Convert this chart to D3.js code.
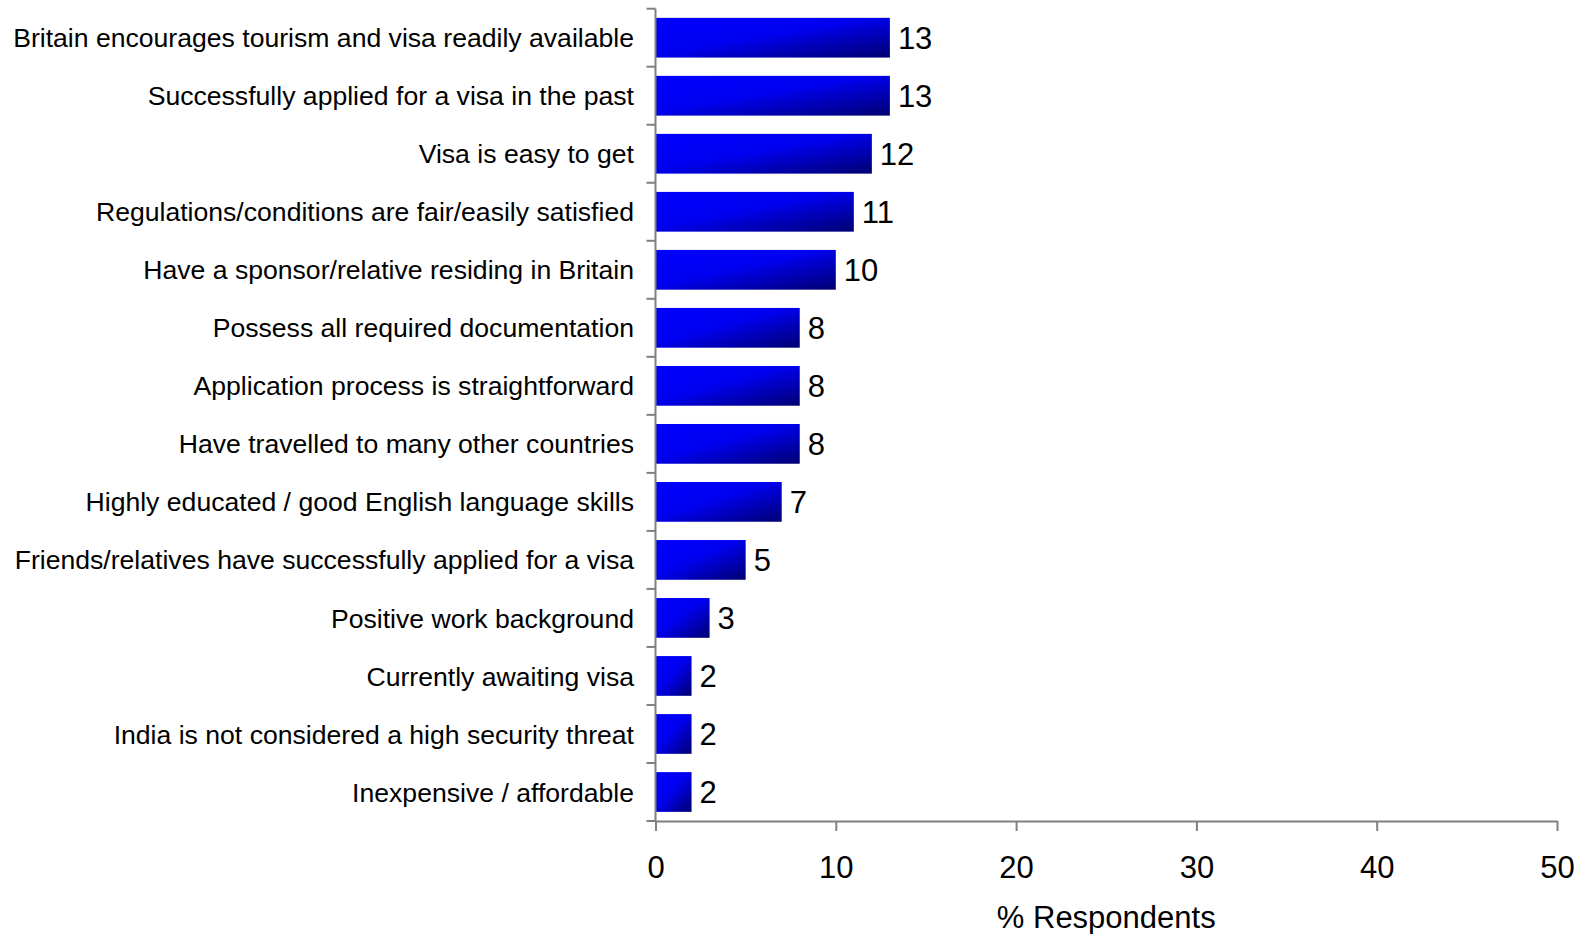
<!DOCTYPE html>
<html><head><meta charset="utf-8">
<script src="https://cdn.jsdelivr.net/npm/d3@7"></script>
<style>
html,body{margin:0;padding:0;background:#fff;}
svg{display:block;font-family:"Liberation Sans",Arial,sans-serif;}
</style></head>
<body>
<svg id="chart" width="1583" height="934"></svg>
<script>
const categories = [
  "Britain encourages tourism and visa readily available",
  "Successfully applied for a visa in the past",
  "Visa is easy to get",
  "Regulations/conditions are fair/easily satisfied",
  "Have a sponsor/relative residing in Britain",
  "Possess all required documentation",
  "Application process is straightforward",
  "Have travelled to many other countries",
  "Highly educated / good English language skills",
  "Friends/relatives have successfully applied for a visa",
  "Positive work background",
  "Currently awaiting visa",
  "India is not considered a high security threat",
  "Inexpensive / affordable"
];
const values = [13, 13, 12, 11, 10, 8, 8, 8, 7, 5, 3, 2, 2, 2];
const xTicks = [0, 10, 20, 30, 40, 50];
const xTitle = "% Respondents";

(function () {
const svg = d3.select("#chart");
const mLeft = 655.5, mRight = 1557, mTop = 8.7, mBottom = 821;

const defs = svg.append("defs");
const grad = defs.append("linearGradient").attr("id", "barGrad")
  .attr("x1", 0).attr("y1", 0).attr("x2", 1).attr("y2", 1);
grad.append("stop").attr("offset", "0%").attr("stop-color", "#0000ff");
grad.append("stop").attr("offset", "45%").attr("stop-color", "#0000f0");
grad.append("stop").attr("offset", "100%").attr("stop-color", "#000072");

const x = d3.scaleLinear().domain([0, 50]).range([mLeft, mRight]);
const y = d3.scaleBand().domain(categories).range([mTop, mBottom]).paddingInner(0.315).paddingOuter(0.1575);

svg.append("g").selectAll("rect").data(values).join("rect")
  .attr("x", x(0))
  .attr("y", (d, i) => y(categories[i]))
  .attr("width", d => x(d) - x(0))
  .attr("height", y.bandwidth())
  .attr("fill", "url(#barGrad)");

svg.append("g").selectAll("text").data(values).join("text")
  .attr("x", d => x(d) + 8)
  .attr("y", (d, i) => y(categories[i]) + y.bandwidth() / 2)
  .attr("dy", "0.36em")
  .attr("font-size", 31)
  .attr("fill", "#000")
  .text(d => d);

const axisColor = "#808080";
const yAxis = svg.append("g");
yAxis.append("line").attr("x1", mLeft).attr("x2", mLeft).attr("y1", mTop).attr("y2", mBottom)
  .attr("stroke", axisColor).attr("stroke-width", 2);
const step = y.step();
const boundaries = d3.range(categories.length + 1).map(i => mTop + i * step);
yAxis.selectAll("line.tk").data(boundaries).join("line").attr("class", "tk")
  .attr("x1", mLeft - 9).attr("x2", mLeft).attr("y1", d => d).attr("y2", d => d)
  .attr("stroke", axisColor).attr("stroke-width", 2);

svg.append("g").selectAll("text").data(categories).join("text")
  .attr("x", 634)
  .attr("y", d => y(d) + y.bandwidth() / 2)
  .attr("dy", "0.36em")
  .attr("text-anchor", "end")
  .attr("font-size", 26.6)
  .attr("fill", "#000")
  .text(d => d);

const xAxis = svg.append("g").attr("transform", `translate(0,${mBottom})`)
  .call(d3.axisBottom(x).tickValues(xTicks).tickSize(10).tickSizeOuter(0).tickPadding(25).tickFormat(d3.format("d")));
xAxis.select(".domain").attr("stroke", axisColor).attr("stroke-width", 2);
xAxis.selectAll(".tick line").attr("stroke", axisColor).attr("stroke-width", 2);
xAxis.selectAll(".tick text").attr("font-size", 31).attr("fill", "#000")
  .attr("font-family", "Liberation Sans, Arial, sans-serif");

svg.append("text")
  .attr("x", (x(0) + x(50)) / 2)
  .attr("y", 928)
  .attr("text-anchor", "middle")
  .attr("font-size", 31)
  .attr("fill", "#000")
  .text(xTitle);
})();
</script>
</body></html>
